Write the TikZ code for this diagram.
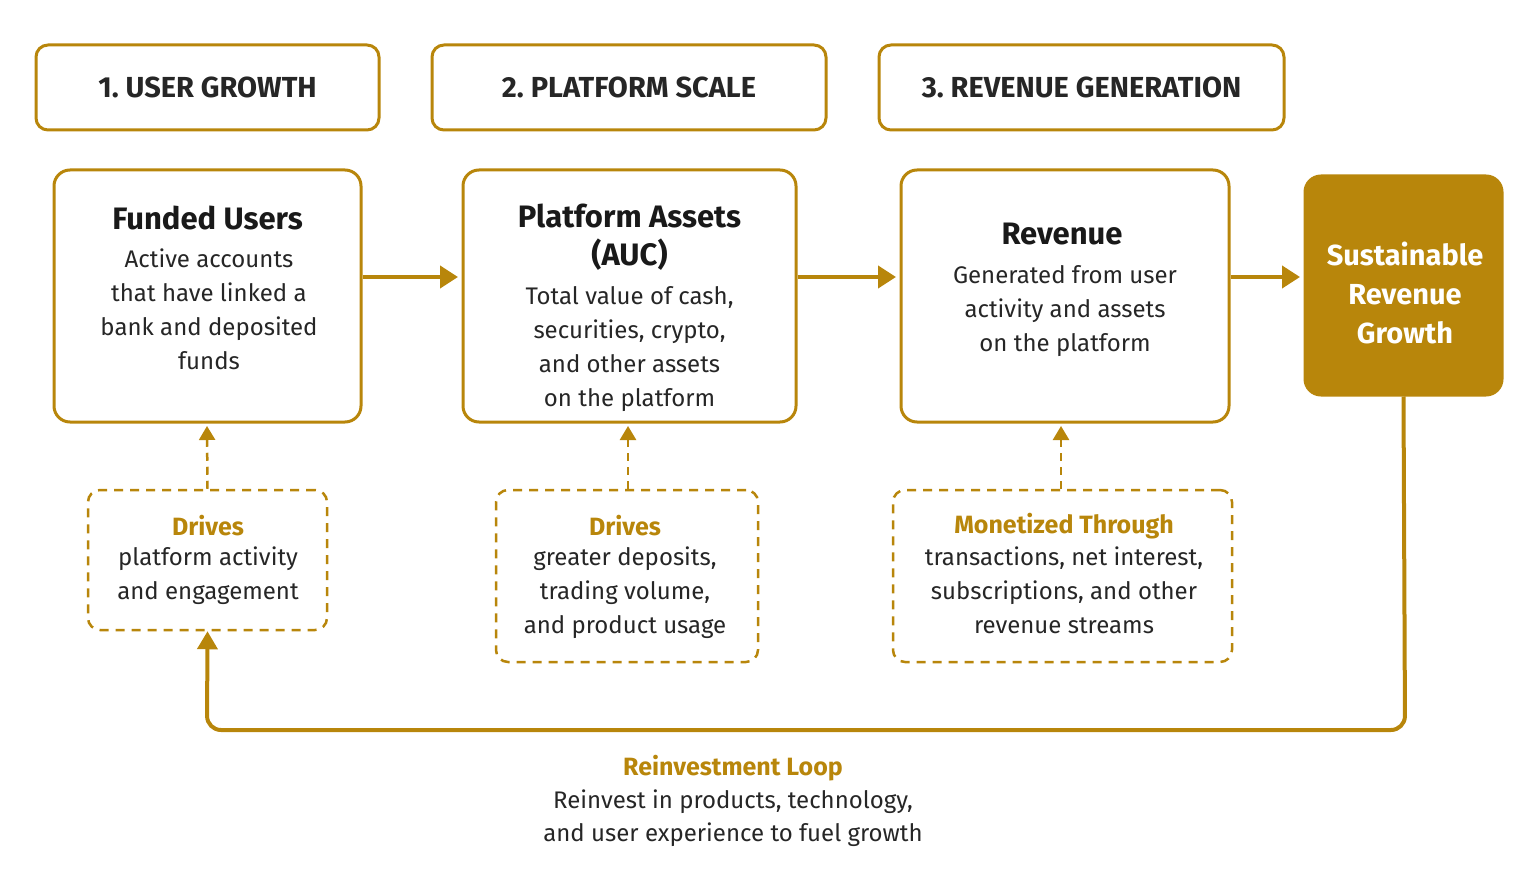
\documentclass[tikz,border=0pt]{standalone}
\usepackage{fontspec}
\setmainfont{Fira Sans}
\usetikzlibrary{arrows.meta}
\definecolor{gold}{RGB}{184,134,11}
\begin{document}
\begin{tikzpicture}[x=1pt,y=-1pt,
  hdr/.style={draw=gold,line width=3pt,rounded corners=12pt,inner sep=0pt,font=\fontsize{29}{34}\selectfont\bfseries,text=black!85},
  box/.style={draw=gold,line width=3pt,rounded corners=16pt,inner sep=0pt,align=center},
  dbox/.style={draw=gold,line width=2.5pt,dash pattern=on 9pt off 7pt,rounded corners=12pt,inner sep=0pt,align=center},
  arr/.style={draw=gold,line width=4pt,-{Triangle[length=18pt,width=22pt]}},
  darr/.style={draw=gold,line width=2.5pt,dash pattern=on 8pt off 6pt,-{Triangle[length=14pt,width=16pt]}},
  ttl/.style={font=\fontsize{31}{38}\selectfont\bfseries,text=black!90},
  bod/.style={font=\fontsize{24}{34}\selectfont,text=black!85},
  gt/.style={font=\fontsize{25}{32}\selectfont\bfseries,text=gold}]
\useasboundingbox (0,0) rectangle (1536,893);
\node[hdr,minimum width=343pt,minimum height=85pt] (h1) at (207.5,87.5) {1.\ USER GROWTH};
\node[hdr,minimum width=394pt,minimum height=85pt] (h2) at (629,87.5) {2.\ PLATFORM SCALE};
\node[hdr,minimum width=405pt,minimum height=85pt] (h3) at (1081.5,87.5) {3.\ REVENUE GENERATION};
\node[box,minimum width=307pt,minimum height=252pt] (b1) at (207.5,296) {};
\node[box,minimum width=333pt,minimum height=252pt] (b2) at (629.5,296) {};
\node[box,minimum width=328pt,minimum height=252pt] (b3) at (1065,296) {};
\node[box,fill=gold,minimum width=197pt,minimum height=219pt] (b4) at (1403.5,285.5) {};
\node[ttl] (t1) at (207.5,218) {Funded Users};
\node[bod,align=center,anchor=north] (d1) at (209,245) {Active accounts\\that have linked a\\bank and deposited\\funds};
\node[ttl,align=center] (t2) at (629.5,237) {Platform Assets\\(AUC)};
\node[bod,align=center,anchor=north] (d2) at (629.5,283) {Total value of cash,\\securities, crypto,\\and other assets\\on the platform};
\node[ttl] (t3) at (1062,234) {Revenue};
\node[bod,align=center,anchor=north] (d3) at (1065,262) {Generated from user\\activity and assets\\on the platform};
\node[font=\fontsize{29}{39}\selectfont\bfseries,text=white,align=center] (t4) at (1405,293) {Sustainable\\Revenue\\Growth};
\draw[arr] (b1.east |- 0,277) -- (458,277);
\draw[arr] (b2.east |- 0,277) -- (896,277);
\draw[arr] (b3.east |- 0,277) -- (1300,277);
\node[dbox,minimum width=239pt,minimum height=140pt] (e1) at (207.5,560) {};
\node[dbox,minimum width=262pt,minimum height=172pt] (e2) at (627,576) {};
\node[dbox,minimum width=339pt,minimum height=172pt] (e3) at (1062.5,576) {};
\node[gt] (g1) at (208,526) {Drives};
\node[bod,anchor=north,align=center] at (208,543) {platform activity\\and engagement};
\node[gt] (g2) at (625,526) {Drives};
\node[bod,anchor=north,align=center] at (625,543) {greater deposits,\\trading volume,\\and product usage};
\node[gt] (g3) at (1064,526) {Monetized Through};
\node[bod,anchor=north,align=center] at (1064,543) {transactions, net interest,\\subscriptions, and other\\revenue streams};
\draw[darr] (e1.north) -- (207,426);
\draw[darr] (e2.north -| 628,0) -- (628,426);
\draw[darr] (e3.north -| 1061,0) -- (1061,426);
\draw[draw=gold,line width=4pt,rounded corners=14pt,-{Triangle[length=18pt,width=20pt]}] (b4.south) -- (1405,730) -- (207,730) -- (e1.south);
\node[gt] at (733,768) {Reinvestment Loop};
\node[bod,anchor=north,align=center,font=\fontsize{24}{33}\selectfont] at (733,786) {Reinvest in products, technology,\\and user experience to fuel growth};
\end{tikzpicture}
\end{document}
